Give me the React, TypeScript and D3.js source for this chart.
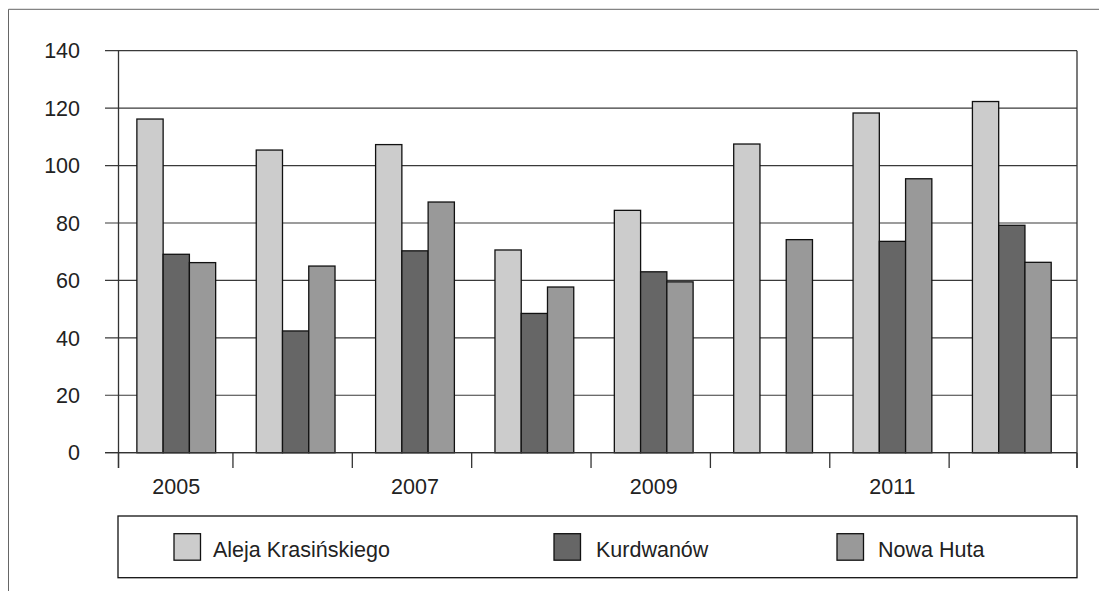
import React from "react";
import * as d3 from "d3";

const years = ["2005", "2006", "2007", "2008", "2009", "2010", "2011", "2012"];
const yearLabels = ["2005", "", "2007", "", "2009", "", "2011", ""];
const seriesNames = ["Aleja Krasińskiego", "Kurdwanów", "Nowa Huta"];
const aleja = [116.2, 105.4, 107.3, 70.6, 84.4, 107.5, 118.3, 122.3];
const kurdwanow: (number | null)[] = [69.1, 42.4, 70.3, 48.5, 63.0, null, 73.6, 79.2];
const nowaHuta = [66.2, 65.0, 87.3, 57.7, 59.5, 74.2, 95.4, 66.3];
const yTicks = [0, 20, 40, 60, 80, 100, 120, 140];
const colors = ["#cccccc", "#666666", "#999999"];

const W = 1099;
const H = 591;
const plot = { left: 118.5, right: 1077, top: 50.7, bottom: 452.7 };
const FONT = "'Liberation Sans', Arial, sans-serif";
const FS = 21.5;

export default function App() {
  const series = [aleja, kurdwanow, nowaHuta];
  const y = d3.scaleLinear().domain([0, 140]).range([plot.bottom, plot.top]);
  const x = d3
    .scaleBand<string>()
    .domain(years)
    .range([plot.left, plot.right])
    .paddingInner(0.34)
    .paddingOuter(0.185)
    .align(0.416);
  const x1 = d3.scaleBand<string>().domain(seriesNames).range([0, x.bandwidth()]);
  const step = x.step();
  const gap = step - x.bandwidth();
  const tickXs = [plot.left, ...years.slice(1).map((yr) => (x(yr) as number) - gap / 2 - 3), plot.right];

  const legendItems = [
    { swatch: 174, text: 213 },
    { swatch: 554, text: 596 },
    { swatch: 837, text: 878 },
  ];

  return (
    <svg
      width={W}
      height={H}
      style={{ position: "absolute", left: 0, top: 0, background: "#fff" }}
      fontFamily={FONT}
    >
      {/* outer frame */}
      <line x1={8.5} y1={9.3} x2={W} y2={9.3} stroke="#666" strokeWidth={1} />
      <line x1={8.5} y1={9.3} x2={8.5} y2={H} stroke="#666" strokeWidth={1} />

      {/* gridlines */}
      {yTicks.map((t) => (
        <g key={t}>
          <line x1={105} x2={plot.right} y1={y(t)} y2={y(t)} stroke="#3a3a3a" strokeWidth={1.2} />
          <text
            x={80}
            y={y(t)}
            dy="0.36em"
            textAnchor="end"
            fontSize={FS}
            fill="#222"
          >
            {t}
          </text>
        </g>
      ))}

      {/* bars */}
      {years.map((yr, i) => (
        <g key={yr} transform={`translate(${x(yr)},0)`}>
          {series.map((s, j) => {
            const v = s[i];
            if (v == null) return null;
            return (
              <rect
                key={j}
                x={x1(seriesNames[j])}
                y={y(v)}
                width={x1.bandwidth()}
                height={y(0) - y(v)}
                fill={colors[j]}
                stroke="#111"
                strokeWidth={1.3}
              />
            );
          })}
        </g>
      ))}

      {/* axes */}
      <line x1={plot.left} x2={plot.left} y1={plot.top} y2={468} stroke="#333" strokeWidth={1.3} />
      <line x1={plot.right} x2={plot.right} y1={plot.top} y2={468} stroke="#333" strokeWidth={1.3} />
      <line x1={105} x2={plot.right} y1={plot.bottom} y2={plot.bottom} stroke="#333" strokeWidth={1.3} />
      {tickXs.map((tx, i) => (
        <line key={i} x1={tx} x2={tx} y1={plot.bottom} y2={468} stroke="#333" strokeWidth={1.3} />
      ))}
      {years.map((yr, i) =>
        yearLabels[i] ? (
          <text
            key={yr}
            x={(x(yr) as number) + x.bandwidth() / 2}
            y={494}
            textAnchor="middle"
            fontSize={FS}
            fill="#222"
          >
            {yearLabels[i]}
          </text>
        ) : null
      )}

      {/* legend */}
      <rect x={118} y={516} width={959} height={61.7} fill="none" stroke="#111" strokeWidth={1.3} />
      {seriesNames.map((name, j) => (
        <g key={name}>
          <rect
            x={legendItems[j].swatch}
            y={533.7}
            width={26.5}
            height={26.5}
            fill={colors[j]}
            stroke="#111"
            strokeWidth={1.3}
          />
          <text x={legendItems[j].text} y={556.5} fontSize={FS} fill="#222">
            {name}
          </text>
        </g>
      ))}
    </svg>
  );
}
